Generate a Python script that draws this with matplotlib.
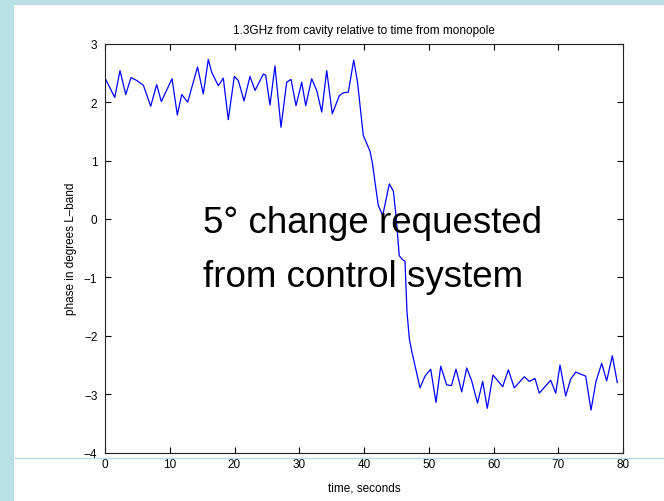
import matplotlib
matplotlib.use("Agg")
import matplotlib.pyplot as plt
from matplotlib.patches import Rectangle
from matplotlib.lines import Line2D

# phase of the 1.3GHz cavity signal
t = [0.15, 1.50, 2.32, 3.20, 4.02, 4.90, 5.92, 7.06, 7.98, 8.70,
     10.35, 11.17, 11.85, 12.77, 14.29, 15.18, 15.95, 16.48, 17.50, 18.27,
     19.04, 19.97, 20.59, 21.47, 22.39, 23.17, 24.45, 24.82, 25.48, 26.25,
     27.18, 28.06, 28.73, 29.50, 30.38, 31.00, 31.92, 32.70, 33.47, 34.24,
     35.10, 36.19, 36.80, 37.58, 38.41, 39.00, 39.89, 40.93, 41.28, 41.85,
     42.21, 42.89, 43.91, 44.53, 44.94, 45.45, 45.98, 46.33, 46.64, 47.00,
     47.37, 48.65, 49.42, 50.30, 51.12, 51.85, 52.77, 53.51, 54.21, 55.09,
     55.86, 56.63, 57.53, 58.33, 59.04, 59.92, 61.42, 62.29, 63.21, 64.76,
     65.53, 66.41, 67.07, 68.83, 69.61, 70.27, 71.15, 71.92, 72.70, 74.24,
     75.06, 75.83, 76.71, 77.48, 78.35, 79.12]
phase = [2.38, 2.08, 2.54, 2.13, 2.42, 2.37, 2.29, 1.93, 2.30, 2.01,
         2.40, 1.78, 2.13, 2.00, 2.60, 2.14, 2.73, 2.51, 2.28, 2.41,
         1.70, 2.44, 2.37, 2.02, 2.44, 2.20, 2.48, 2.46, 1.95, 2.62,
         1.57, 2.34, 2.39, 1.94, 2.34, 1.94, 2.40, 2.20, 1.83, 2.54,
         1.80, 2.11, 2.16, 2.17, 2.72, 2.34, 1.43, 1.16, 0.97, 0.51,
         0.23, 0.06, 0.60, 0.48, 0.06, -0.63, -0.70, -0.72, -1.59, -2.05,
         -2.26, -2.89, -2.69, -2.57, -3.14, -2.52, -2.84, -2.85, -2.57, -2.96,
         -2.55, -2.77, -3.15, -2.78, -3.24, -2.67, -2.87, -2.58, -2.89, -2.70,
         -2.78, -2.73, -2.98, -2.76, -2.98, -2.50, -3.03, -2.74, -2.62, -2.69,
         -3.27, -2.78, -2.47, -2.77, -2.34, -2.80]

xticks = [0, 10, 20, 30, 40, 50, 60, 70, 80]
yticks = [-4, -3, -2, -1, 0, 1, 2, 3]

W, H = 664, 502
slide_blue = "#b9e0e4"
small = 8.5

plt.rcParams['font.family'] = ['Liberation Sans', 'DejaVu Sans']

fig = plt.figure(figsize=(W / 100, H / 100), dpi=100)
fig.patch.set_facecolor("white")

# slide background bits around the pasted figure
fig.patches.append(Rectangle((0, 0), 14 / W, 1, transform=fig.transFigure,
                             facecolor=slide_blue, edgecolor="none", zorder=0))
fig.patches.append(Rectangle((0, 1 - 6 / H), 1, 6 / H, transform=fig.transFigure,
                             facecolor=slide_blue, edgecolor="none", zorder=0))
fig.lines.append(Line2D([14 / W, 1], [1 - 459 / H, 1 - 459 / H], transform=fig.transFigure,
                        color=slide_blue, linewidth=1, zorder=0))

ax = fig.add_axes([105 / W, 1 - 453.7 / H, (623 - 105) / W, (453.7 - 44.7) / H])
ax.plot(t, phase, color="#0000ff", linewidth=0.9)

ax.set_xlim(0, 80)
ax.set_ylim(-4, 3)
ax.set_xticks(xticks)
ax.set_yticks(yticks)
ax.tick_params(direction="in", length=4, width=0.8, top=True, right=True,
               labelsize=small, colors="black")
ax.tick_params(axis="x", pad=4)
ax.tick_params(axis="y", pad=5.5)
for s in ax.spines.values():
    s.set_linewidth(0.8)
    s.set_color("#222222")

ax.set_title("1.3GHz from cavity relative to time from monopole", fontsize=small, pad=8)
ax.set_xlabel("time, seconds", fontsize=small, labelpad=8)
ax.set_ylabel("phase in degrees L\u2013band", fontsize=small, labelpad=5)

ax.text(15.1, -0.23, "5\u00b0 change requested", fontsize=26.5, va="baseline", ha="left")
ax.text(15.1, -1.15, "from control system", fontsize=26.5, va="baseline", ha="left")

fig.savefig("out.png", dpi=100)
